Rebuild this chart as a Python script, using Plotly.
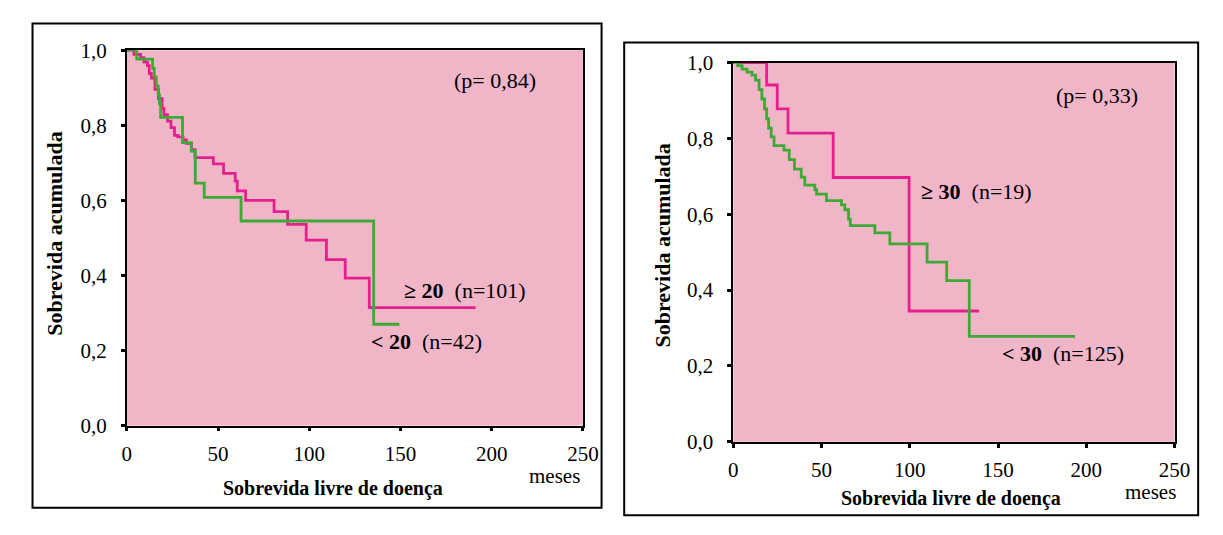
import plotly.graph_objects as go

# ---- Kaplan-Meier step data (months, cumulative survival) ----
# Left panel: split at 20
ge20_t = [0, 3.9, 7.5, 9.4, 11.3, 12.3, 13.4, 15.4, 17.3, 19.3, 20.3, 22.3, 24.2, 26.1,
          27.9, 30.8, 32.6, 35.4, 37.3, 47.4, 53.0, 59.4, 60.5, 65.1, 80.7, 88.1, 98.3,
          109.4, 119.7, 132.9, 191.2]
ge20_s = [1.0, 0.989, 0.980, 0.968, 0.959, 0.938, 0.926, 0.896, 0.871, 0.845, 0.828, 0.811,
          0.794, 0.773, 0.769, 0.761, 0.752, 0.735, 0.714, 0.697, 0.672, 0.651, 0.625, 0.600,
          0.570, 0.536, 0.494, 0.442, 0.393, 0.314, 0.314]

lt20_t = [0, 5.4, 14.1, 15.0, 16.1, 17.2, 17.9, 18.5, 30.5, 35.3, 37.5, 42.4, 62.6, 135.3, 149.4]
lt20_s = [1.0, 0.976, 0.952, 0.929, 0.905, 0.881, 0.857, 0.821, 0.754, 0.731, 0.646, 0.608,
          0.545, 0.270, 0.270]

# Right panel: split at 30
ge30_t = [0, 18.9, 24.9, 31.0, 56.6, 99.6, 139.3]
ge30_s = [1.0, 0.941, 0.878, 0.814, 0.697, 0.345, 0.345]

lt30_t = [0, 2.5, 5.0, 7.8, 10.6, 12.6, 14.6, 16.2, 17.7, 18.9, 20.0, 21.5, 23.1, 28.7, 31.7,
          34.7, 38.5, 40.5, 46.2, 47.2, 52.8, 61.3, 63.2, 65.3, 66.3, 80.2, 88.7, 109.8,
          120.9, 133.7, 193.6]
lt30_s = [1.0, 0.992, 0.983, 0.975, 0.967, 0.954, 0.929, 0.904, 0.878, 0.852, 0.827, 0.804,
          0.781, 0.769, 0.744, 0.719, 0.698, 0.677, 0.665, 0.653, 0.636, 0.625, 0.612, 0.587,
          0.570, 0.551, 0.522, 0.474, 0.425, 0.278, 0.278]

x_ticks = [0, 50, 100, 150, 200, 250]
y_ticks = [0.0, 0.2, 0.4, 0.6, 0.8, 1.0]

MAGENTA = "#E4208F"
GREEN = "#3DAA35"
PINK = "#F1B5C8"
SERIF = "Liberation Serif"

W, H = 1223, 535


def px_x(p):
    return p / W


def px_y(p):
    return 1 - p / H


fig = go.Figure()

for t, s, col, xa, ya in [
    (ge20_t, ge20_s, MAGENTA, "x", "y"),
    (lt20_t, lt20_s, GREEN, "x", "y"),
    (ge30_t, ge30_s, MAGENTA, "x2", "y2"),
    (lt30_t, lt30_s, GREEN, "x2", "y2"),
]:
    fig.add_trace(go.Scatter(x=t, y=s, mode="lines", line=dict(color=col, width=2.8, shape="hv"),
                             xaxis=xa, yaxis=ya, showlegend=False, hoverinfo="skip"))

axis_common = dict(
    showline=True, linecolor="black", linewidth=1.6, mirror=True,
    showgrid=False, zeroline=False, ticks="outside", ticklen=4, tickwidth=3,
    tickcolor="black", tickfont=dict(family=SERIF, size=21, color="black"),
)

fig.update_layout(
    width=W, height=H,
    margin=dict(l=0, r=0, t=0, b=0),
    paper_bgcolor="white",
    plot_bgcolor=PINK,
    separators=",.",
    xaxis=dict(domain=[px_x(124), px_x(588)], range=[0, 250], tickvals=x_ticks,
               anchor="y", ticklabelstandoff=4, **axis_common),
    yaxis=dict(domain=[px_y(433), px_y(40)], range=[0, 1], tickvals=y_ticks,
               tickformat=".1f", anchor="x", ticklabelstandoff=10, **axis_common),
    xaxis2=dict(domain=[px_x(741), px_x(1190)], range=[0, 250], tickvals=x_ticks,
                anchor="y2", ticklabelstandoff=4, **axis_common),
    yaxis2=dict(domain=[px_y(450), px_y(53)], range=[0, 1], tickvals=y_ticks,
                tickformat=".1f", anchor="x2", ticklabelstandoff=10, **axis_common),
)

# Outer frames around each panel
fig.add_shape(type="rect", xref="paper", yref="paper",
              x0=px_x(28), x1=px_x(607), y0=px_y(519), y1=px_y(12),
              line=dict(color="black", width=2), layer="below")
fig.add_shape(type="rect", xref="paper", yref="paper",
              x0=px_x(630), x1=px_x(1214), y0=px_y(527), y1=px_y(32),
              line=dict(color="black", width=2), layer="below")

txt = dict(family=SERIF, size=22, color="black")
ann = []
# Panel texts (data coordinates)
ann.append(dict(x=202, y=0.919, xref="x", yref="y", text="(p= 0,84)", showarrow=False,
                font=txt, xanchor="center", yanchor="middle"))
ann.append(dict(x=151, y=0.359, xref="x", yref="y", xanchor="left", yanchor="middle",
                text="<b>≥ 20</b>  (n=101)", showarrow=False, font=txt))
ann.append(dict(x=133, y=0.224, xref="x", yref="y", xanchor="left", yanchor="middle",
                text="<b>< 20</b>  (n=42)", showarrow=False, font=txt))
ann.append(dict(x=206, y=0.912, xref="x2", yref="y2", text="(p= 0,33)", showarrow=False,
                font=txt, xanchor="center", yanchor="middle"))
ann.append(dict(x=105, y=0.66, xref="x2", yref="y2", xanchor="left", yanchor="middle",
                text="<b>≥ 30</b>  (n=19)", showarrow=False, font=txt))
ann.append(dict(x=151, y=0.234, xref="x2", yref="y2", xanchor="left", yanchor="middle",
                text="<b>< 30</b>  (n=125)", showarrow=False, font=txt))

# Axis titles (paper coordinates, centred on the given pixel position)
ytitle = dict(family=SERIF, size=22, color="black")
for cx, cy in [(50, 232), (668, 245)]:
    ann.append(dict(x=px_x(cx), y=px_y(cy), xref="paper", yref="paper", textangle=-90,
                    xanchor="center", yanchor="middle",
                    text="<b>Sobrevida acumulada</b>", showarrow=False, font=ytitle))
xtitle = dict(family=SERIF, size=20, color="black")
for cx, cy in [(334, 499), (963, 509)]:
    ann.append(dict(x=px_x(cx), y=px_y(cy), xref="paper", yref="paper",
                    xanchor="center", yanchor="middle",
                    text="<b>Sobrevida livre de doença</b>", showarrow=False, font=xtitle))
for cx, cy in [(559, 486), (1166, 503)]:
    ann.append(dict(x=px_x(cx), y=px_y(cy), xref="paper", yref="paper",
                    xanchor="center", yanchor="middle",
                    text="meses", showarrow=False, font=dict(family=SERIF, size=21, color="black")))

fig.update_layout(annotations=ann)

fig.write_html("out.html")
